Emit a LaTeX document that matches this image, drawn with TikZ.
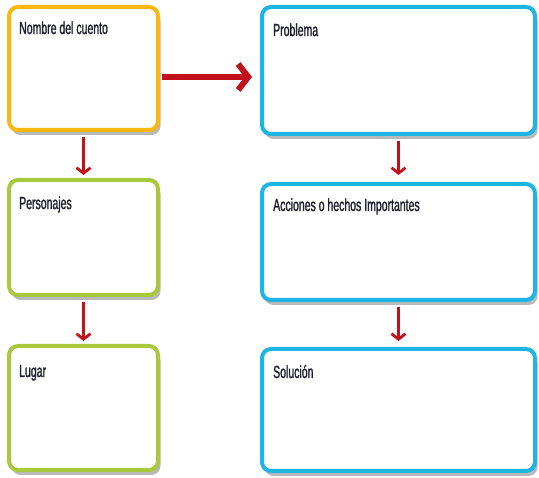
\documentclass[tikz,border=0pt]{standalone}
\usepackage{fontspec}
\setmainfont{Liberation Sans}[FakeStretch=0.6,FakeBold=1.3]
\usetikzlibrary{arrows.meta,shadows,calc}
\definecolor{oro}{HTML}{F9B712}
\definecolor{verde}{HTML}{A9C93C}
\definecolor{celeste}{HTML}{1DB5E6}
\definecolor{rojo}{HTML}{C1121C}
\definecolor{tinta}{HTML}{1F1F2E}
\begin{document}
\begin{tikzpicture}[x=1pt,y=-1pt,line cap=round,line join=round,
	caja/.style={rectangle,rounded corners=9pt,line width=4pt,fill=white,inner sep=0pt,
		drop shadow={shadow xshift=2.5pt,shadow yshift=-5pt,fill=black!55,opacity=.5}},
	izq/.style={caja,minimum width=149pt},
	der/.style={caja,minimum width=273pt},
	titulo/.style={anchor=base west,inner sep=0pt,text=tinta,font=\fontsize{17.5}{19}\selectfont},
	flecha/.style={draw=rojo,line width=2.8pt,line cap=butt,-{Straight Barb[length=5.5pt,width=14pt]}},
	flechagruesa/.style={draw=rojo,line width=6pt,line cap=butt,-{Straight Barb[length=10pt,width=26pt]}}]
	\useasboundingbox (0,0) rectangle (539,478);
	\node[izq,draw=oro,minimum height=123pt] (cuento) at (83.5,68.5) {};
	\node[izq,draw=verde,minimum height=115pt] (personajes) at (83.5,237.5) {};
	\node[izq,draw=verde,minimum height=124pt] (lugar) at (83.5,408) {};
	\node[der,draw=celeste,minimum height=127pt] (problema) at (398.5,70.5) {};
	\node[der,draw=celeste,minimum height=116pt] (acciones) at (398.5,242) {};
	\node[der,draw=celeste,minimum height=122pt] (solucion) at (398.5,410) {};
	\node[titulo] (tcuento) at ([xshift=12pt,yshift=-29pt]cuento.north west) {Nombre del cuento};
	\node[titulo] (tpersonajes) at ([xshift=12pt,yshift=-31pt]personajes.north west) {Personajes};
	\node[titulo] (tlugar) at ([xshift=12pt,yshift=-33pt]lugar.north west) {Lugar};
	\node[titulo] (tproblema) at ([xshift=13pt,yshift=-31pt]problema.north west) {Problema};
	\node[titulo] (tacciones) at ([xshift=13pt,yshift=-29pt]acciones.north west) {Acciones o hechos Importantes};
	\node[titulo] (tsolucion) at ([xshift=13pt,yshift=-31pt]solucion.north west) {Solución};
	\coordinate (h1) at ([yshift=-8.5pt]cuento.east);
	\draw[flechagruesa,shorten <=2pt,shorten >=8pt] (h1) -- (h1 -| problema.west);
	\draw[flecha,shorten <=5pt,shorten >=3pt] (cuento) -- (personajes);
	\draw[flecha,shorten <=5pt,shorten >=3pt] (personajes) -- (lugar);
	\draw[flecha,shorten <=5pt,shorten >=7pt] (problema) -- (acciones);
	\draw[flecha,shorten <=5pt,shorten >=6pt] (acciones) -- (solucion);
\end{tikzpicture}
\end{document}
